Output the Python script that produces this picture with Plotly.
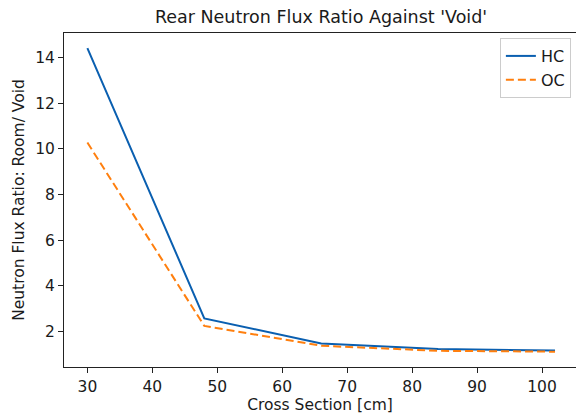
import plotly.graph_objects as go

cross_section = [30, 48, 66, 84, 102]
hc_ratio = [14.42, 2.58, 1.48, 1.24, 1.17]
oc_ratio = [10.28, 2.25, 1.38, 1.16, 1.12]
x_ticks = [30, 40, 50, 60, 70, 80, 90, 100]
y_ticks = [2, 4, 6, 8, 10, 12, 14]

font_family = "DejaVu Sans"

fig = go.Figure()
fig.add_trace(go.Scatter(x=cross_section, y=hc_ratio, mode="lines", name="HC",
                         line=dict(color="#0a5fb0", width=2)))
fig.add_trace(go.Scatter(x=cross_section, y=oc_ratio, mode="lines", name="OC",
                         line=dict(color="#ff7f0e", width=2, dash="8px,4px")))

fig.update_layout(
    width=576, height=418,
    margin=dict(l=64, r=0, t=33, b=51),
    paper_bgcolor="white", plot_bgcolor="white",
    font=dict(family=font_family, size=16, color="#1a1a1a"),
    title=dict(text="Rear Neutron Flux Ratio Against 'Void'", x=(64 + 578) / 2 / 576,
               xanchor="center", y=1 - 17 / 418, yanchor="middle",
               font=dict(size=17.5, family=font_family, color="#1a1a1a")),
    showlegend=True,
    legend=dict(x=0.99, y=0.985, xanchor="right", yanchor="top",
                bordercolor="#cccccc", borderwidth=1, bgcolor="rgba(255,255,255,0.8)",
                font=dict(size=16, family=font_family), tracegroupgap=0),
    xaxis=dict(range=[26.4, 105.23], tickvals=x_ticks, showgrid=False, zeroline=False,
               showline=True, linecolor="#222222", linewidth=1, mirror=True,
               ticks="outside", ticklen=5, tickcolor="#222222",
               tickfont=dict(size=15.5),
               title=dict(text="Cross Section [cm]", standoff=4, font=dict(size=15.5))),
    yaxis=dict(range=[0.45, 15.08], tickvals=y_ticks, showgrid=False, zeroline=False,
               showline=True, linecolor="#222222", linewidth=1,
               ticks="outside", ticklen=5, tickcolor="#222222",
               tickfont=dict(size=15.5),
               title=dict(text="Neutron Flux Ratio: Room/ Void", standoff=6, font=dict(size=15.5))),
)

fig.write_html("out.html")
